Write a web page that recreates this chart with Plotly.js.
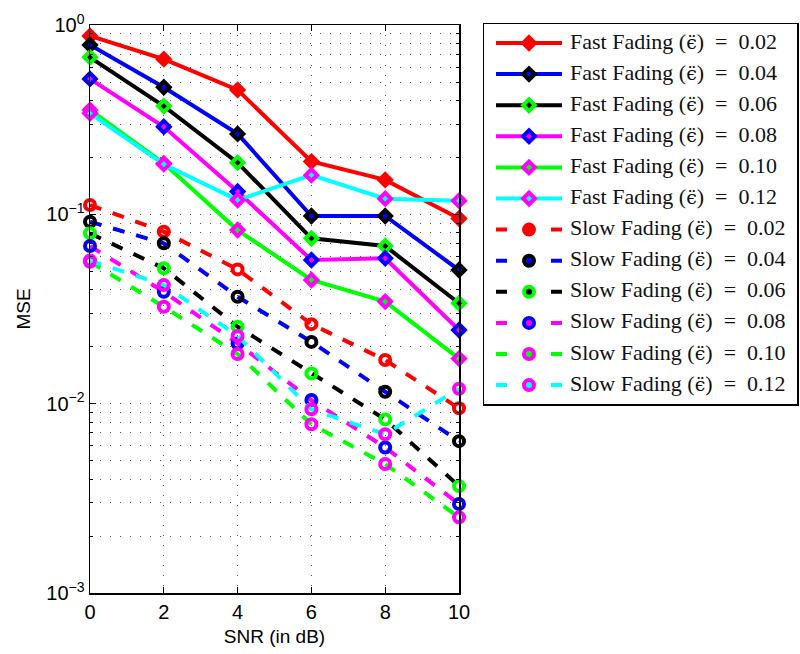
<!DOCTYPE html>
<html><head><meta charset="utf-8">
<script src="https://cdn.plot.ly/plotly-3.0.1.min.js"></script>
<style>html,body{margin:0;padding:0;background:#fff}</style>
</head><body><div id="chart" style="width:800px;height:654px"></div>
<script>
const snr = [0, 2, 4, 6, 8, 10];
const epsLabels = ['0.02', '0.04', '0.06', '0.08', '0.10', '0.12'];
const lineColors = ['#ff0000', '#0000ff', '#000000', '#ff00ff', '#00ff00', '#00ffff'];
const markerColors = ['#ff0000', '#000000', '#00ff00', '#0000ff', '#ff00ff', '#ff00ff'];

const fast002 = [0.875, 0.66, 0.454, 0.19, 0.152, 0.095];
const fast004 = [0.784, 0.469, 0.266, 0.098, 0.098, 0.0508];
const fast006 = [0.675, 0.373, 0.1875, 0.0747, 0.068, 0.0339];
const fast008 = [0.519, 0.29, 0.132, 0.0574, 0.0586, 0.0245];
const fast010 = [0.356, 0.186, 0.0826, 0.045, 0.0346, 0.0173];
const fast012 = [0.342, 0.184, 0.119, 0.161, 0.121, 0.118];

const slow002 = [0.112, 0.081, 0.0512, 0.0263, 0.017, 0.00945];
const slow004 = [0.0914, 0.0703, 0.0367, 0.0212, 0.01156, 0.00634];
const slow006 = [0.0794, 0.0519, 0.0255, 0.01445, 0.00826, 0.00367];
const slow008 = [0.068, 0.039, 0.0208, 0.01045, 0.00587, 0.00295];
const slow010 = [0.0562, 0.0325, 0.0183, 0.00778, 0.0048, 0.00251];
const slow012 = [0.057, 0.0423, 0.0228, 0.00933, 0.0069, 0.0120];

const yTickVals = [0.001, 0.01, 0.1, 1];
const yTickText = ['10<sup>−3</sup>', '10<sup>−2</sup>', '10<sup>−1</sup>', '10<sup>0</sup>'];
const xTickVals = [0, 2, 4, 6, 8, 10];

const fastSeries = [fast002, fast004, fast006, fast008, fast010, fast012];
const slowSeries = [slow002, slow004, slow006, slow008, slow010, slow012];

const epsHtml = '(<span style="font-family:DejaVu Serif;font-size:19px">ϵ̈</span>)\u2002=\u2002';

function fastMarker(i) {
  return {symbol: 'diamond', size: 9, color: lineColors[i], line: {width: 4, color: markerColors[i]}};
}
function slowMarker(i, fill) {
  return {symbol: 'circle', size: 10, color: fill, line: {width: 4, color: markerColors[i]}};
}

const traces = [];
const legendEntries = [];
fastSeries.forEach((ys, i) => {
  traces.push({
    x: snr, y: ys, type: 'scatter', mode: 'lines+markers', showlegend: false,
    line: {color: lineColors[i], width: 4}, marker: fastMarker(i), cliponaxis: false
  });
  legendEntries.push({name: 'Fast Fading ' + epsHtml + epsLabels[i], idx: i, slow: false});
});
slowSeries.forEach((ys, i) => {
  traces.push({
    x: snr, y: ys, type: 'scatter', mode: 'lines+markers', showlegend: false,
    line: {color: lineColors[i], width: 4, dash: '12px,12px'},
    marker: slowMarker(i, 'rgba(0,0,0,0)'), cliponaxis: false
  });
  legendEntries.push({name: 'Slow Fading ' + epsHtml + epsLabels[i], idx: i, slow: true});
});

// custom legend drawn on a second pair of axes
const rowY = legendEntries.map((e, i) => 19 + i * 31.1);
legendEntries.forEach((e, i) => {
  traces.push({
    x: [12, 78], y: [rowY[i], rowY[i]], xaxis: 'x2', yaxis: 'y2', type: 'scatter', mode: 'lines',
    showlegend: false, hoverinfo: 'skip',
    line: {color: lineColors[e.idx], width: 4, dash: e.slow ? '11px,44px' : 'solid'}
  });
  traces.push({
    x: [45], y: [rowY[i]], xaxis: 'x2', yaxis: 'y2', type: 'scatter', mode: 'markers',
    showlegend: false, hoverinfo: 'skip',
    marker: e.slow ? slowMarker(e.idx, lineColors[e.idx]) : fastMarker(e.idx)
  });
});
traces.push({
  x: legendEntries.map(() => 86), y: rowY, text: legendEntries.map(e => e.name),
  xaxis: 'x2', yaxis: 'y2', type: 'scatter', mode: 'text', textposition: 'middle right',
  textfont: {family: 'Liberation Serif', size: 22, color: '#111'}, showlegend: false, hoverinfo: 'skip',
  cliponaxis: false
});

const gridDash = '1px,9px';
const layout = {
  width: 800, height: 654,
  margin: {l: 0, r: 0, t: 0, b: 0},
  paper_bgcolor: '#fff', plot_bgcolor: 'rgba(0,0,0,0)',
  showlegend: false,
  font: {family: 'Liberation Sans, Arial, sans-serif', color: '#000'},
  xaxis: {
    domain: [90 / 800, 459 / 800], range: [0, 10], tickmode: 'array', tickvals: xTickVals,
    ticks: 'inside', ticklen: 6, tickwidth: 1, tickcolor: '#000', mirror: 'allticks',
    showline: true, linecolor: '#000', linewidth: 1.5, zeroline: false,
    showgrid: true, griddash: gridDash, gridcolor: '#555', gridwidth: 1,
    tickfont: {size: 20, family: 'Liberation Sans'},
    title: {text: 'SNR (in dB)', font: {size: 19, family: 'Liberation Sans'}, standoff: 8}
  },
  yaxis: {
    domain: [1 - 593 / 654, 1 - 25 / 654], type: 'log', range: [-3, 0],
    tickmode: 'array', tickvals: yTickVals, ticktext: yTickText,
    ticks: 'inside', ticklen: 6, tickwidth: 1, tickcolor: '#000', mirror: 'allticks',
    showline: true, linecolor: '#000', linewidth: 1.5, zeroline: false,
    showgrid: true, griddash: gridDash, gridcolor: '#555', gridwidth: 1,
    tickfont: {size: 20, family: 'Liberation Sans'},
    minor: {dtick: 'D1', ticks: 'inside', ticklen: 3, tickcolor: '#000', showgrid: true, griddash: gridDash, gridcolor: '#555', gridwidth: 1},
    title: {text: 'MSE', font: {size: 19, family: 'Liberation Sans'}, standoff: 10}
  },
  xaxis2: {
    domain: [484 / 800, 797 / 800], range: [0, 313], anchor: 'y2',
    showline: true, mirror: true, linecolor: '#000', linewidth: 1.5,
    showticklabels: false, ticks: '', showgrid: false, zeroline: false, fixedrange: true
  },
  yaxis2: {
    domain: [1 - 404 / 654, 1 - 24 / 654], range: [380, 0], anchor: 'x2',
    showline: true, mirror: true, linecolor: '#000', linewidth: 1.5,
    showticklabels: false, ticks: '', showgrid: false, zeroline: false, fixedrange: true
  }
};

Plotly.newPlot('chart', traces, layout, {displayModeBar: false, staticPlot: true});
</script>
</body></html>
